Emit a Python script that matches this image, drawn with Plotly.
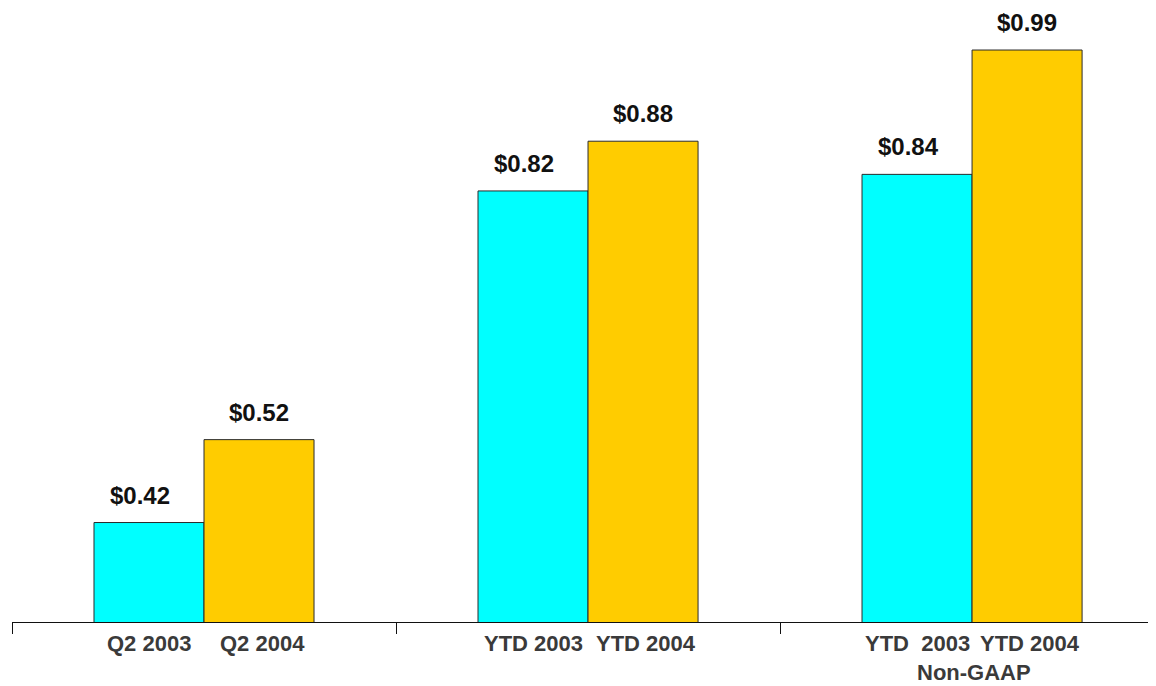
import plotly.graph_objects as go

# Data
groups = ["Q2", "YTD", "YTD Non-GAAP"]
eps_2003 = [0.42, 0.82, 0.84]
eps_2004 = [0.52, 0.88, 0.99]
labels_2003 = ["Q2 2003", "YTD 2003", "YTD  2003"]
labels_2004 = ["Q2 2004", "YTD 2004", "YTD 2004"]
group_notes = ["", "", "Non-GAAP"]

CYAN = "#00FFFF"
GOLD = "#FFCC00"
OUTLINE = "#2b2b2b"
BARGAP = 0.427
half = (1 - BARGAP) / 4  # offset of each bar centre from category centre

fig = go.Figure()
fig.add_trace(go.Bar(x=list(range(len(groups))), y=eps_2003, marker=dict(color=CYAN, line=dict(color=OUTLINE, width=1)),
                     name="2003", hoverinfo="skip"))
fig.add_trace(go.Bar(x=list(range(len(groups))), y=eps_2004, marker=dict(color=GOLD, line=dict(color=OUTLINE, width=1)),
                     name="2004", hoverinfo="skip"))

annotations = []
label_font = dict(family="Liberation Sans, Arial, sans-serif", size=24, color="#111111")
tick_font = dict(family="Liberation Sans, Arial, sans-serif", size=22, color="#3a3a3a")
for i in range(len(groups)):
    for vals, off, xs in ((eps_2003, -half, -9), (eps_2004, half, 0)):
        annotations.append(dict(x=i + off, y=vals[i], xref="x", yref="y", text=f"<b>${vals[i]:.2f}</b>",
                                showarrow=False, yanchor="bottom", yshift=12, xshift=xs, font=label_font))
    annotations.append(dict(x=i - half, y=0, xref="x", yref="paper", text=f"<b>{labels_2003[i]}</b>",
                            showarrow=False, yanchor="top", yshift=-7, xshift=0, font=tick_font))
    annotations.append(dict(x=i + half, y=0, xref="x", yref="paper", text=f"<b>{labels_2004[i]}</b>",
                            showarrow=False, yanchor="top", yshift=-7, xshift=3, font=tick_font))
    if group_notes[i]:
        annotations.append(dict(x=i, y=0, xref="x", yref="paper", text=f"<b>{group_notes[i]}</b>",
                                showarrow=False, yanchor="top", yshift=-36, xshift=2, font=tick_font))

fig.update_layout(
    width=1156, height=686,
    margin=dict(l=4, r=8, t=0, b=72),
    paper_bgcolor="white", plot_bgcolor="white",
    barmode="group", bargap=BARGAP, bargroupgap=0,
    showlegend=False,
    annotations=annotations,
    xaxis=dict(type="linear", range=[-0.5, 2.479], showgrid=False, zeroline=False,
               showline=True, linecolor="#111111", linewidth=1,
               tickmode="array", tickvals=[-0.5, 0.5, 1.5, 2.5], ticks="outside", ticklen=11,
               tickcolor="#111111", showticklabels=False),
    yaxis=dict(range=[0.3, 1.0407], visible=False),
)

fig.write_html("out.html")
